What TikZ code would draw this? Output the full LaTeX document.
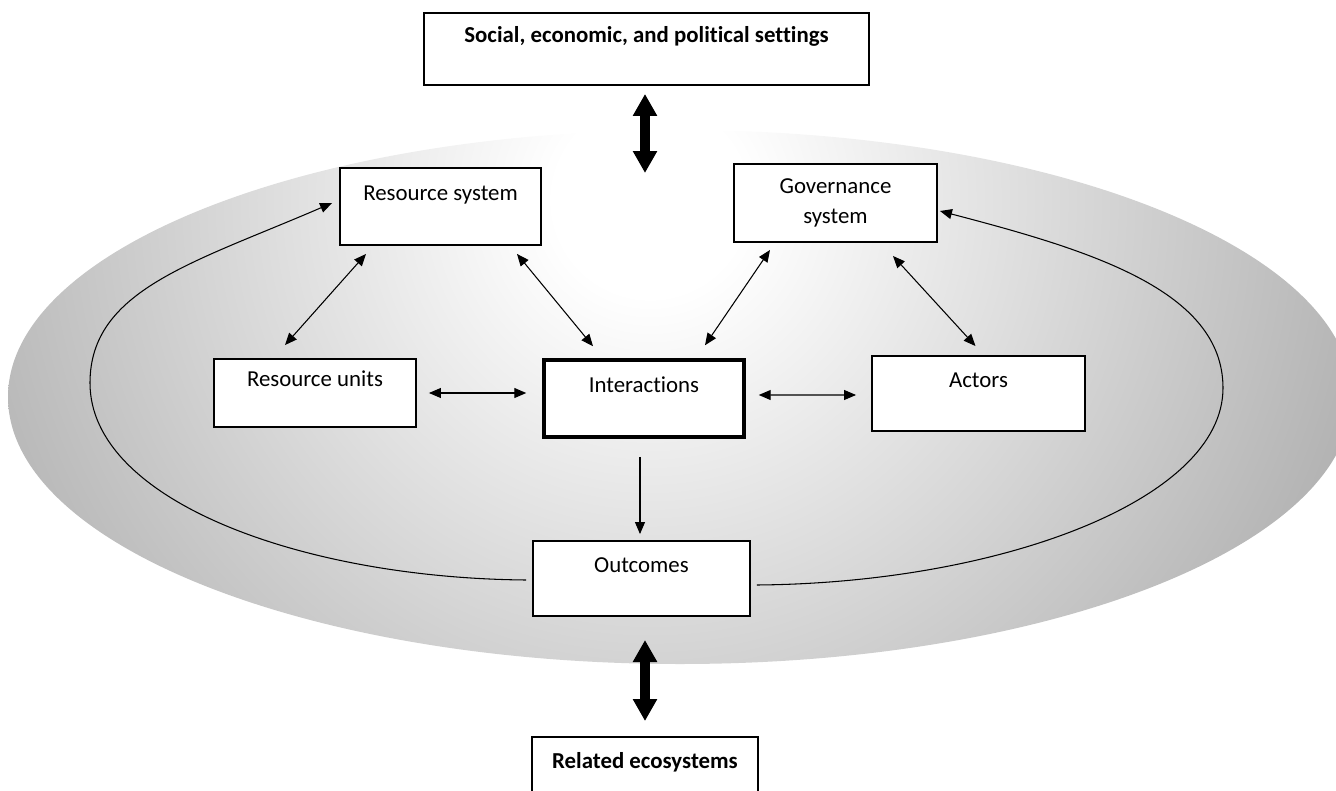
\documentclass[tikz,border=0pt]{standalone}
\usepackage{fontspec}
\setmainfont{Carlito}[Ligatures=NoCommon]
\usetikzlibrary{arrows.meta, positioning}
\pgfdeclareradialshading{sysglow}{\pgfpoint{0bp}{0bp}}{color(0bp)=(white); color(3bp)=(white); color(25bp)=(black!33); color(50bp)=(black!33)}

\begin{document}
\begin{tikzpicture}[
		x=0.02cm, y=0.02cm,
		boxbase/.style={draw,rectangle,fill=white,line width=1.1pt,inner sep=0pt,align=center,font=\fontsize{13}{17}\selectfont},
		box/.style={boxbase,text height=9pt,text depth=16pt},
		link/.style={{Triangle[length=0.24cm,width=0.2cm]}-{Triangle[length=0.24cm,width=0.2cm]},line width=0.6pt},
		flow/.style={-{Triangle[length=0.24cm,width=0.2cm]},line width=0.6pt},
		bigflow/.style={{Triangle[length=0.44cm,width=0.46cm]}-{Triangle[length=0.44cm,width=0.46cm]},line width=5.7pt}
	]
		\useasboundingbox (0,0) rectangle (1336,-791);
		\begin{scope}
			\clip (680,-397) ellipse [x radius=672, y radius=267];
			\shade[shading=sysglow] (650,-200) circle [radius=800];
		\end{scope}

		\node (settings) [box,minimum width=8.9cm,minimum height=1.44cm] at (646.5,-49) {\bfseries Social, economic, and political settings};
		\node (rsys) [box,minimum width=4.02cm,minimum height=1.54cm] at (440.5,-206.5) {Resource system};
		\node (gov) [boxbase,minimum width=4.06cm,minimum height=1.56cm] at (835.5,-203) {Governance\\system};
		\node (runits) [box,minimum width=4.04cm,minimum height=1.36cm] at (315,-393) {Resource units};
		\node (inter) [box,line width=2pt,minimum width=4cm,minimum height=1.54cm] at (644,-398.5) {Interactions};
		\node (actors) [box,minimum width=4.26cm,minimum height=1.5cm] at (978.5,-393.5) {Actors};
		\node (outc) [box,minimum width=4.34cm,minimum height=1.5cm] at (641.5,-578.5) {Outcomes};
		\node (relat) [box,minimum width=4.52cm,minimum height=1.5cm] at (645,-774.5) {\bfseries Related ecosystems};
		\coordinate (systop) at (645,-173);
		\coordinate (sysbot) at (645,-640);
		\coordinate (wl) at (90,-383);
		\coordinate (wr) at (1223,-388);

		\draw [flow] ([shift={(-6,-1.5)}]outc.west) .. controls (300,-578) and (90,-500) .. (wl)
			.. controls (90,-290) and (193,-263) .. ([shift={(-7,3.5)}]rsys.west);
		\draw [flow] ([shift={(6,-6.5)}]outc.east) .. controls (1000,-583) and (1223,-500) .. (wr)
			.. controls (1223,-290) and (1089,-250) .. ([shift={(2,-8)}]gov.east);
		\draw [link] ([shift={(-30,13)}]runits.north) -- ([shift={(-74.5,-8)}]rsys.south);
		\draw [link] ([shift={(76.5,-8)}]rsys.south) -- ([shift={(-51,12)}]inter.north);
		\draw [link] ([shift={(-65.5,-7)}]gov.south) -- ([shift={(61,13)}]inter.north);
		\draw [link] ([shift={(57.5,-13)}]gov.south) -- ([shift={(-3,9)}]actors.north);
		\draw [link] ([shift={(12,0)}]runits.east) -- ([shift={(-16,5.5)}]inter.west);
		\draw [link] ([shift={(13,3.5)}]inter.east) -- ([shift={(-15,-1.5)}]actors.west);
		\draw [flow] ([shift={(-4,-18)}]inter.south) -- ([shift={(-1.5,6)}]outc.north);
		\draw [bigflow] ([shift={(-1.5,-8)}]settings.south) -- (systop);
		\draw [bigflow] (sysbot) -- ([shift={(0,15)}]relat.north);
	\end{tikzpicture}
\end{document}
